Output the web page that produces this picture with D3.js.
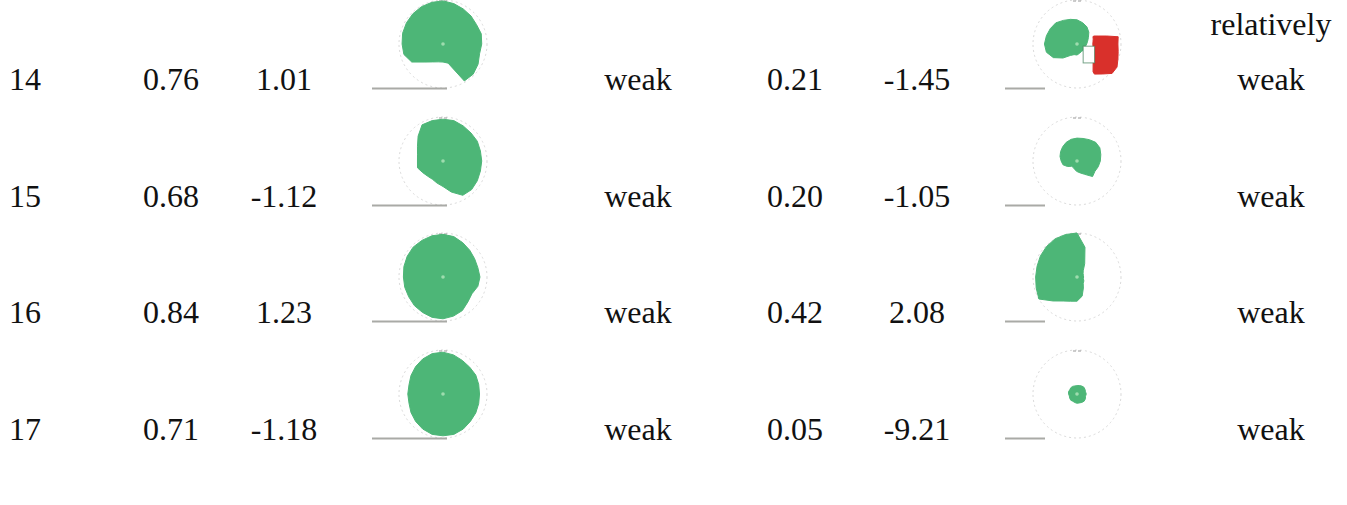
<!DOCTYPE html>
<html>
<head>
<meta charset="utf-8">
<script src="https://cdn.jsdelivr.net/npm/d3@7"></script>
<style>
html,body{margin:0;padding:0;background:#fff;}
svg{display:block;}
text{font-family:"Liberation Serif","Times New Roman",serif;font-size:32px;fill:#111;}
</style>
</head>
<body>
<svg id="chart" width="1347" height="505"></svg>
<script>
// ---- data ----
const rowIds   = ["14", "15", "16", "17"];
const colA     = ["0.76", "0.68", "0.84", "0.71"];
const colB     = ["1.01", "-1.12", "1.23", "-1.18"];
const labelA   = [["weak"], ["weak"], ["weak"], ["weak"]];
const colC     = ["0.21", "0.20", "0.42", "0.05"];
const colD     = ["-1.45", "-1.05", "2.08", "-9.21"];
const labelB   = [["relatively", "weak"], ["weak"], ["weak"], ["weak"]];

// polar angles (degrees, clockwise from top)
const angles = [0,15,30,45,60,75,90,105,120,135,150,165,180,195,210,225,240,255,270,285,300,315,330,345];

// relative radii of the green blobs, left column (rows 14..17)
const leftBlobs = [
  [0.98,0.95,0.92,0.9,0.88,0.9,0.88,0.86,0.92,0.97,0.97,0.45,0.41,0.42,0.47,0.58,0.82,0.92,0.93,0.95,0.96,0.97,0.98,0.98],
  [0.95,0.95,0.92,0.9,0.9,0.88,0.88,0.88,0.9,0.92,0.9,0.73,0.58,0.52,0.48,0.49,0.53,0.6,0.58,0.6,0.67,0.8,0.95,0.95],
  [0.97,0.95,0.9,0.86,0.83,0.82,0.84,0.82,0.76,0.8,0.88,0.92,0.95,0.95,0.93,0.92,0.9,0.9,0.9,0.92,0.94,0.96,0.96,0.97],
  [0.95,0.92,0.88,0.86,0.86,0.84,0.83,0.84,0.86,0.88,0.92,0.95,0.95,0.95,0.92,0.88,0.84,0.8,0.8,0.8,0.84,0.88,0.92,0.95]
];
// right column green blobs
const rightBlobs = [
  [0.55,0.5,0.45,0.38,0.3,0.25,0.22,0.2,0.2,0.2,0.2,0.22,0.25,0.25,0.3,0.45,0.62,0.72,0.74,0.72,0.7,0.68,0.62,0.58],
  [0.52,0.53,0.56,0.6,0.6,0.56,0.53,0.5,0.47,0.5,0.35,0.28,0.24,0.2,0.17,0.17,0.25,0.33,0.36,0.4,0.43,0.46,0.49,0.51],
  [1.0,0.7,0.35,0.2,0.16,0.15,0.15,0.15,0.18,0.2,0.29,0.45,0.55,0.57,0.63,0.77,1.0,0.96,0.94,0.94,0.96,0.98,1.0,1.0],
  [0.19,0.2,0.21,0.22,0.21,0.2,0.21,0.2,0.22,0.23,0.22,0.21,0.21,0.2,0.19,0.2,0.19,0.18,0.19,0.2,0.19,0.2,0.2,0.19]
];
// red segment in row 14 right (angle, inner, outer)
const redAngles = [65,70,75,80,90,100,110,120,130,140,150];
const redInner  = [0.40,0.39,0.38,0.37,0.36,0.37,0.39,0.42,0.47,0.57,0.73];
const redOuter  = [0.43,0.53,0.70,0.95,0.93,0.95,0.99,1.05,1.04,0.89,0.79];

// ---- layout ----
const baselines = [90, 207, 323, 440];
const R = 44;
const leftCx = 443, rightCx = 1077;
const green = "#4db677", red = "#d9302b";

const svg = d3.select("#chart");
const rScale = d3.scaleLinear().domain([0,1]).range([0,R]);
const aScale = d3.scaleLinear().domain([0,360]).range([0,2*Math.PI]);

function drawPolar(cx, cy, radii, lineX0, lineX1, redSeg) {
  const g = svg.append("g").attr("transform", `translate(${cx},${cy})`);
  // baseline line
  svg.append("line")
    .attr("x1", lineX0).attr("x2", lineX1)
    .attr("y1", cy + R + 0.5).attr("y2", cy + R + 0.5)
    .attr("stroke", "#a9aaa6").attr("stroke-width", 2);
  // circle outline
  g.append("circle").attr("r", rScale(1)).attr("fill", "none")
    .attr("stroke", "#dadada").attr("stroke-width", 1).attr("stroke-dasharray", "2,3");
  g.append("path").attr("d", "M-4," + (-R + 1) + "h3m2,0h3")
    .attr("stroke", "#999").attr("stroke-width", 1.2);
  const line = d3.lineRadial()
    .angle((d,i) => aScale(angles[i]))
    .radius(d => rScale(d))
    .curve(d3.curveLinearClosed);
  g.append("path").attr("d", line(radii)).attr("fill", green).attr("stroke", green).attr("stroke-width", 1);
  if (redSeg) {
    const area = d3.areaRadial()
      .angle((d,i) => aScale(redAngles[i]))
      .innerRadius((d,i) => rScale(redInner[i]))
      .outerRadius((d,i) => rScale(redOuter[i]))
      .curve(d3.curveLinear);
    g.append("path").attr("d", area(redAngles)).attr("fill", red).attr("stroke", red);
    // small white gap box with dark green edge
    g.append("rect").attr("x", rScale(0.14)).attr("y", rScale(0.05))
      .attr("width", rScale(0.26)).attr("height", rScale(0.38))
      .attr("fill", "#fff").attr("stroke", "#3d7d57").attr("stroke-width", 1).attr("stroke-opacity", 0.7);
  }
  g.append("circle").attr("r", 1.8).attr("fill", "#9fdcae");
}

rowIds.forEach((id, i) => {
  const y = baselines[i];
  svg.append("text").attr("x", 9).attr("y", y).text(id);
  svg.append("text").attr("x", 171).attr("y", y).attr("text-anchor", "middle").text(colA[i]);
  svg.append("text").attr("x", 284).attr("y", y).attr("text-anchor", "middle").text(colB[i]);
  const la = labelA[i];
  la.forEach((t, k) => svg.append("text").attr("x", 638).attr("y", y - (la.length - 1 - k) * 55)
    .attr("text-anchor", "middle").text(t));
  svg.append("text").attr("x", 795).attr("y", y).attr("text-anchor", "middle").text(colC[i]);
  svg.append("text").attr("x", 917).attr("y", y).attr("text-anchor", "middle").text(colD[i]);
  const lb = labelB[i];
  lb.forEach((t, k) => svg.append("text").attr("x", 1271).attr("y", y - (lb.length - 1 - k) * 55)
    .attr("text-anchor", "middle").text(t));

  const cy = y - R - 2;
  drawPolar(leftCx, cy, leftBlobs[i], 372, 447, false);
  drawPolar(rightCx, cy, rightBlobs[i], 1005, 1045, i === 0);
});
</script>
</body>
</html>
